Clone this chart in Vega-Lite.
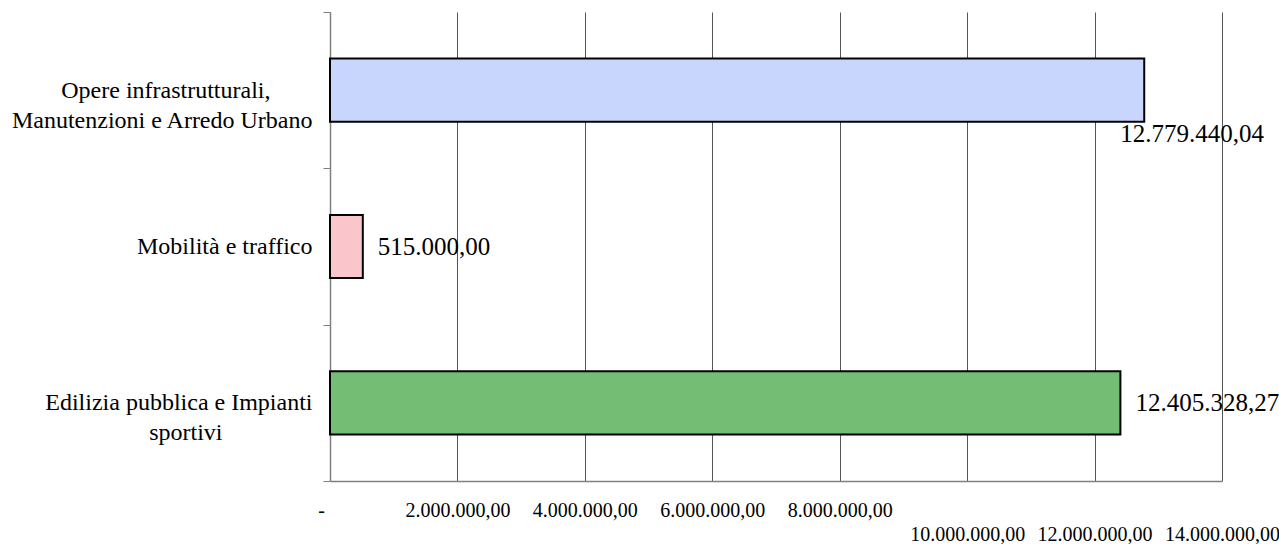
{
  "$schema": "https://vega.github.io/schema/vega-lite/v6.json",
  "width": 892,
  "height": 469,
  "autosize": "none",
  "padding": {"left": 330, "top": 12, "right": 57, "bottom": 63},
  "background": "white",
  "config": {
    "view": {"stroke": null},
    "font": "Liberation Serif, Times New Roman, serif",
    "locale": {"number": {"decimal": ",", "thousands": ".", "grouping": [3], "currency": ["", " €"]}}
  },
  "data": {"values": [
    {"categoria": "Opere infrastrutturali,\nManutenzioni e Arredo Urbano", "importo": 12779440.04},
    {"categoria": "Mobilità e traffico", "importo": 515000.00},
    {"categoria": "Edilizia pubblica e Impianti\nsportivi", "importo": 12405328.27}
  ]},
  "encoding": {
    "y": {
      "field": "categoria", "type": "nominal", "sort": null,
      "scale": {"paddingInner": 0, "paddingOuter": 0},
      "axis": {
        "title": null,
        "labelExpr": "indexof(datum.label, 'Opere') == 0 ? ['Opere infrastrutturali,\u00a0\u00a0\u00a0\u00a0\u00a0\u00a0\u00a0\u200b', 'Manutenzioni e Arredo Urbano'] : (indexof(datum.label, 'Edilizia') == 0 ? ['Edilizia pubblica e Impianti', 'sportivi\u00a0\u00a0\u00a0\u00a0\u00a0\u00a0\u00a0\u00a0\u00a0\u00a0\u00a0\u00a0\u00a0\u00a0\u00a0\u200b'] : datum.label)",
        "labelAlign": "right",
        "labelBaseline": "middle",
        "labelPadding": 11,
        "labelFontSize": 24,
        "labelFont": "Liberation Serif, Times New Roman, serif",
        "labelColor": "black",
        "labelLineHeight": 30,
        "labelLimit": 0,
        "tickBand": "extent",
        "tickSize": 7,
        "tickColor": "#808080",
        "domainColor": "#808080",
        "domainWidth": 1.5
      }
    },
    "x": {
      "field": "importo", "type": "quantitative",
      "scale": {"domain": [0, 14000000], "nice": false},
      "axis": {
        "title": null,
        "format": ",.2f",
        "values": [0, 2000000, 4000000, 6000000, 8000000, 10000000, 12000000, 14000000],
        "labelExpr": "datum.value === 0 ? '-' : datum.label",
        "grid": true,
        "gridColor": "#555555",
        "gridWidth": 1,
        "ticks": false,
        "domainColor": "#808080",
        "domainWidth": 1.5,
        "labelFont": "Liberation Serif, Times New Roman, serif",
        "labelFontSize": 20,
        "labelColor": "black",
        "labelPadding": 35,
        "labelLineHeight": 36,
        "labelBaseline": {"condition": {"test": "datum.value >= 10000000", "value": "line-top"}, "value": "alphabetic"},
        "labelOffset": {"condition": {"test": "datum.value === 0", "value": -9}, "value": 0},
        "labelFlush": false,
        "labelOverlap": false
      }
    }
  },
  "layer": [
    {
      "mark": {"type": "bar", "height": {"band": 0.404}, "stroke": "black", "strokeWidth": 2},
      "encoding": {
        "fill": {
          "field": "categoria", "type": "nominal", "legend": null,
          "scale": {
            "domain": ["Opere infrastrutturali,\nManutenzioni e Arredo Urbano", "Mobilità e traffico", "Edilizia pubblica e Impianti\nsportivi"],
            "range": ["#c8d5fd", "#fbc6cb", "#74bd74"]
          }
        }
      }
    },
    {
      "transform": [{"filter": "indexof(datum.categoria, 'Opere') != 0"}],
      "mark": {"type": "text", "align": "left", "baseline": "middle", "dx": 15, "fontSize": 25, "font": "Liberation Serif, Times New Roman, serif", "color": "black"},
      "encoding": {"text": {"field": "importo", "type": "quantitative", "format": ",.2f"}}
    },
    {
      "transform": [{"filter": "indexof(datum.categoria, 'Opere') == 0"}],
      "mark": {"type": "text", "align": "left", "baseline": "middle", "dx": -24, "dy": 44, "fontSize": 25, "font": "Liberation Serif, Times New Roman, serif", "color": "black"},
      "encoding": {"text": {"field": "importo", "type": "quantitative", "format": ",.2f"}}
    }
  ]
}
